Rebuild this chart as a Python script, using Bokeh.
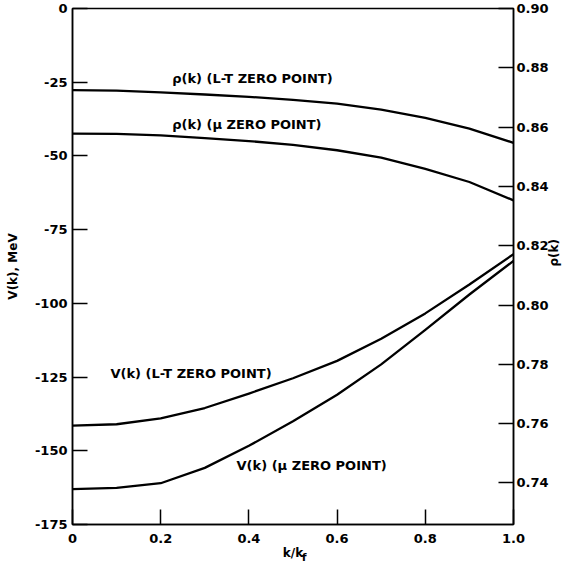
import math
from bokeh.plotting import figure
from bokeh.models import Range1d, LinearAxis, FixedTicker, PrintfTickFormatter
from bokeh.embed import file_html
from bokeh.resources import INLINE
from bokeh.core.properties import value

# ---- data ----
k = [0.0, 0.1, 0.2, 0.3, 0.4, 0.5, 0.6, 0.7, 0.8, 0.9, 1.0]
v_lt = [-141.5, -141.0, -139.0, -135.5, -130.6, -125.4, -119.5, -112.0, -103.4, -93.6, -83.3]
v_mu = [-163.0, -162.6, -161.0, -155.8, -148.3, -140.0, -131.0, -120.7, -109.0, -97.0, -85.6]
rho_lt = [0.8725, 0.8723, 0.8717, 0.8710, 0.8702, 0.8692, 0.8679, 0.8659, 0.8631, 0.8595, 0.8547]
rho_mu = [0.8578, 0.8577, 0.8572, 0.8563, 0.8553, 0.8540, 0.8522, 0.8497, 0.8459, 0.8415, 0.8353]

x_ticks = [0, 0.2, 0.4, 0.6, 0.8, 1.0]
v_ticks = [0, -25, -50, -75, -100, -125, -150, -175]
rho_ticks = [0.74, 0.76, 0.78, 0.80, 0.82, 0.84, 0.86, 0.88, 0.90]

curve_labels = ["\u03c1(k) (L-T ZERO POINT)", "\u03c1(k) (\u03bc ZERO POINT)",
                "V(k) (L-T ZERO POINT)", "V(k) (\u03bc ZERO POINT)"]
label_x = [0.226, 0.226, 0.086, 0.372]
label_y = [-23.6, -39.5, -123.7, -155.1]

FONT = "DejaVu Sans"

p = figure(width=570, height=572, output_backend="svg", toolbar_location=None,
           x_range=Range1d(0, 1), y_range=Range1d(-175, 0),
           min_border_left=72, min_border_right=55, min_border_top=8, min_border_bottom=48)
p.extra_y_ranges = {"rho": Range1d(0.726, 0.90)}
p.grid.visible = False
p.outline_line_color = "black"
p.outline_line_width = 1.5
p.background_fill_color = "white"
p.border_fill_color = "white"

right = LinearAxis(y_range_name="rho", ticker=FixedTicker(ticks=rho_ticks), axis_label="\u03c1(k)")
p.add_layout(right, "right")
right.formatter = PrintfTickFormatter(format="%.2f")
try:
    right.axis_label_orientation = math.pi / 2
except Exception:
    pass

p.xaxis.ticker = FixedTicker(ticks=x_ticks)
p.xaxis.formatter = PrintfTickFormatter(format="%.1f")
p.xaxis.major_label_overrides = {0: "0"}
p.xaxis.axis_label = "k/k"
p.yaxis[0].ticker = FixedTicker(ticks=v_ticks)
p.yaxis[0].formatter = PrintfTickFormatter(format="%d")
p.yaxis[0].axis_label = "V(k), MeV"

for ax in [p.xaxis[0], p.yaxis[0], right]:
    ax.axis_line_color = "black"
    ax.axis_line_width = 1.5
    ax.major_tick_in = 15
    ax.major_tick_out = 0
    ax.major_tick_line_color = "black"
    ax.major_tick_line_width = 1.5
    ax.minor_tick_line_color = None
    ax.major_label_text_font = FONT
    ax.major_label_text_font_style = "bold"
    ax.major_label_text_font_size = "13px"
    ax.major_label_text_color = "black"
    ax.major_label_standoff = 5
    ax.axis_label_text_font = FONT
    ax.axis_label_text_font_style = "bold"
    ax.axis_label_text_font_size = "12px"
    ax.axis_label_text_color = "black"

p.xaxis.major_label_standoff = 9
p.xaxis.axis_label_standoff = 0
p.yaxis[0].axis_label_standoff = 12
right.major_label_standoff = 3
right.axis_label_standoff = 2

# subscript "f" of k/k_f, drawn as the single label of a bare second bottom axis
sub_axis = LinearAxis(ticker=FixedTicker(ticks=[0.525]), formatter=PrintfTickFormatter(format="f"))
sub_axis.axis_line_color = None
sub_axis.major_tick_line_color = None
sub_axis.minor_tick_line_color = None
sub_axis.major_tick_in = 0
sub_axis.major_tick_out = 0
sub_axis.major_label_text_font = FONT
sub_axis.major_label_text_font_style = "bold"
sub_axis.major_label_text_font_size = "11px"
sub_axis.major_label_text_color = "black"
sub_axis.major_label_standoff = -12
p.add_layout(sub_axis, "below")

p.line(k, v_lt, line_color="black", line_width=2.3, line_join="round")
p.line(k, v_mu, line_color="black", line_width=2.3, line_join="round")
p.line(k, rho_lt, y_range_name="rho", line_color="black", line_width=2.3, line_join="round")
p.line(k, rho_mu, y_range_name="rho", line_color="black", line_width=2.3, line_join="round")

p.text(x=label_x, y=label_y, text=curve_labels, text_font=value(FONT), text_font_style="bold",
       text_font_size="13px", text_baseline="middle", text_align="left", text_color="black")

open("out.html", "w").write(file_html(p, INLINE))
